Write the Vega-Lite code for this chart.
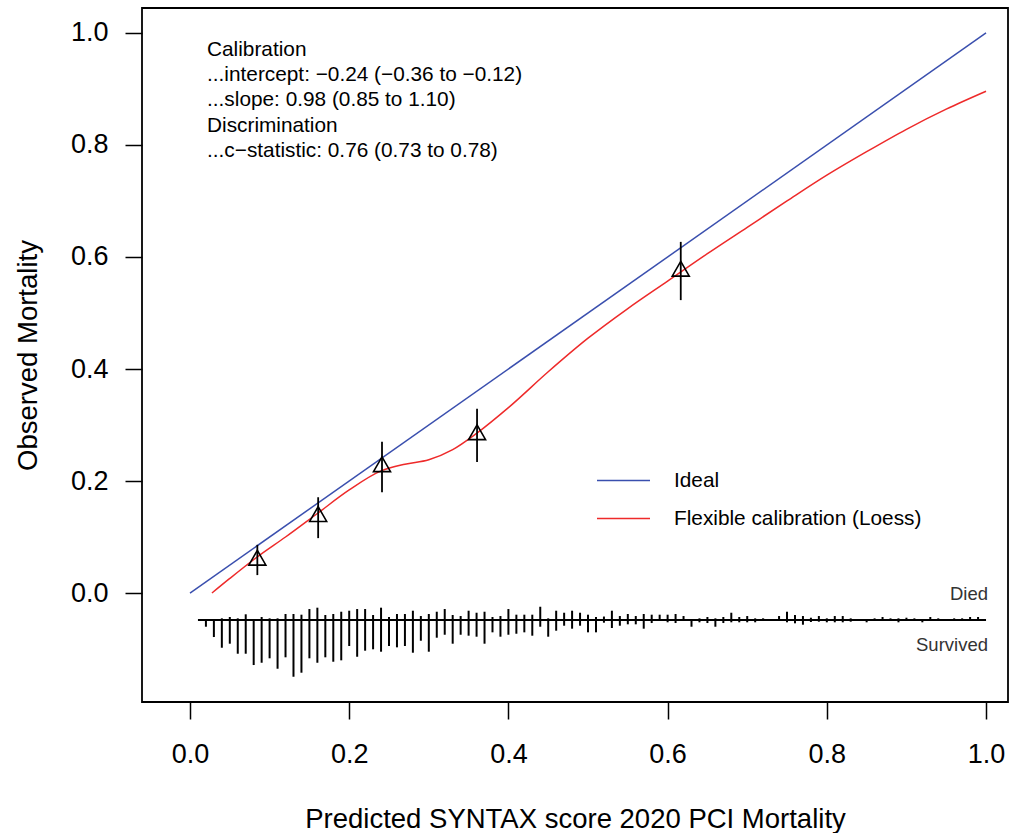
{
  "$schema": "https://vega.github.io/schema/vega-lite/v6.json",
  "width": 866,
  "height": 694,
  "autosize": {"type": "none"},
  "padding": {"left": 142, "top": 8, "right": 1, "bottom": 131},
  "background": "white",
  "config": {
    "view": {"stroke": "black", "strokeWidth": 1.8},
    "font": "Liberation Sans",
    "axis": {
      "domain": false, "grid": false, "tickColor": "black", "tickWidth": 1.5, "tickSize": 17,
      "labelColor": "black", "labelFont": "Liberation Sans", "labelFontSize": 27,
      "titleFont": "Liberation Sans", "titleFontSize": 27.5, "titleFontWeight": "normal", "titleColor": "black",
      "labelFlush": false, "labelOverlap": false, "labelBound": false
    }
  },
  "datasets": {
    "curves": [
      {"series": "Ideal", "p": 0, "obs": 0},
      {"series": "Ideal", "p": 1, "obs": 1},
      {"series": "Flexible calibration (Loess)", "p": 0.0276, "obs": 0.0},
      {"series": "Flexible calibration (Loess)", "p": 0.05, "obs": 0.026},
      {"series": "Flexible calibration (Loess)", "p": 0.085, "obs": 0.065},
      {"series": "Flexible calibration (Loess)", "p": 0.12, "obs": 0.1},
      {"series": "Flexible calibration (Loess)", "p": 0.16, "obs": 0.142},
      {"series": "Flexible calibration (Loess)", "p": 0.2, "obs": 0.184},
      {"series": "Flexible calibration (Loess)", "p": 0.24, "obs": 0.218},
      {"series": "Flexible calibration (Loess)", "p": 0.27, "obs": 0.23},
      {"series": "Flexible calibration (Loess)", "p": 0.3, "obs": 0.238},
      {"series": "Flexible calibration (Loess)", "p": 0.33, "obs": 0.256},
      {"series": "Flexible calibration (Loess)", "p": 0.36, "obs": 0.285},
      {"series": "Flexible calibration (Loess)", "p": 0.4, "obs": 0.331},
      {"series": "Flexible calibration (Loess)", "p": 0.45, "obs": 0.395},
      {"series": "Flexible calibration (Loess)", "p": 0.5, "obs": 0.455},
      {"series": "Flexible calibration (Loess)", "p": 0.55, "obs": 0.508},
      {"series": "Flexible calibration (Loess)", "p": 0.6, "obs": 0.557},
      {"series": "Flexible calibration (Loess)", "p": 0.65, "obs": 0.606},
      {"series": "Flexible calibration (Loess)", "p": 0.7, "obs": 0.653},
      {"series": "Flexible calibration (Loess)", "p": 0.75, "obs": 0.7},
      {"series": "Flexible calibration (Loess)", "p": 0.8, "obs": 0.746},
      {"series": "Flexible calibration (Loess)", "p": 0.85, "obs": 0.788},
      {"series": "Flexible calibration (Loess)", "p": 0.9, "obs": 0.828},
      {"series": "Flexible calibration (Loess)", "p": 0.95, "obs": 0.864},
      {"series": "Flexible calibration (Loess)", "p": 1.0, "obs": 0.896}
    ],
    "groups": [
      {"p": 0.0846, "obs": 0.063, "lo": 0.032, "hi": 0.086},
      {"p": 0.161, "obs": 0.141, "lo": 0.098, "hi": 0.171},
      {"p": 0.2412, "obs": 0.23, "lo": 0.18, "hi": 0.27},
      {"p": 0.3606, "obs": 0.287, "lo": 0.234, "hi": 0.329},
      {"p": 0.6165, "obs": 0.579, "lo": 0.523, "hi": 0.627}
    ],
    "spikes": [
      {"p": 0.02, "top": -0.0482, "bottom": -0.0602},
      {"p": 0.03, "top": -0.0482, "bottom": -0.0786},
      {"p": 0.04, "top": -0.0452, "bottom": -0.0977},
      {"p": 0.05, "top": -0.0428, "bottom": -0.0905},
      {"p": 0.06, "top": -0.0452, "bottom": -0.1084},
      {"p": 0.07, "top": -0.038, "bottom": -0.1084},
      {"p": 0.08, "top": -0.0482, "bottom": -0.1286},
      {"p": 0.09, "top": -0.0428, "bottom": -0.1245},
      {"p": 0.10, "top": -0.0452, "bottom": -0.1166},
      {"p": 0.11, "top": -0.0452, "bottom": -0.1352},
      {"p": 0.12, "top": -0.0375, "bottom": -0.1148},
      {"p": 0.13, "top": -0.0375, "bottom": -0.1495},
      {"p": 0.14, "top": -0.0387, "bottom": -0.1423},
      {"p": 0.15, "top": -0.0286, "bottom": -0.1166},
      {"p": 0.16, "top": -0.0262, "bottom": -0.1245},
      {"p": 0.17, "top": -0.0393, "bottom": -0.1148},
      {"p": 0.18, "top": -0.0375, "bottom": -0.1227},
      {"p": 0.19, "top": -0.0334, "bottom": -0.1202},
      {"p": 0.20, "top": -0.0316, "bottom": -0.0946},
      {"p": 0.21, "top": -0.0286, "bottom": -0.1138},
      {"p": 0.22, "top": -0.0286, "bottom": -0.103},
      {"p": 0.23, "top": -0.0393, "bottom": -0.1005},
      {"p": 0.24, "top": -0.0262, "bottom": -0.1048},
      {"p": 0.25, "top": -0.0428, "bottom": -0.0946},
      {"p": 0.26, "top": -0.0375, "bottom": -0.097},
      {"p": 0.27, "top": -0.0375, "bottom": -0.0946},
      {"p": 0.28, "top": -0.0316, "bottom": -0.1066},
      {"p": 0.29, "top": -0.0411, "bottom": -0.0852},
      {"p": 0.30, "top": -0.0375, "bottom": -0.1048},
      {"p": 0.31, "top": -0.0334, "bottom": -0.0798},
      {"p": 0.32, "top": -0.0286, "bottom": -0.0745},
      {"p": 0.33, "top": -0.0393, "bottom": -0.0905},
      {"p": 0.34, "top": -0.0411, "bottom": -0.0745},
      {"p": 0.35, "top": -0.0316, "bottom": -0.0762},
      {"p": 0.36, "top": -0.0352, "bottom": -0.078},
      {"p": 0.37, "top": -0.0334, "bottom": -0.0905},
      {"p": 0.38, "top": -0.0428, "bottom": -0.0702},
      {"p": 0.39, "top": -0.0411, "bottom": -0.078},
      {"p": 0.40, "top": -0.0286, "bottom": -0.0745},
      {"p": 0.41, "top": -0.0387, "bottom": -0.0727},
      {"p": 0.42, "top": -0.0387, "bottom": -0.0702},
      {"p": 0.43, "top": -0.0387, "bottom": -0.0762},
      {"p": 0.44, "top": -0.0245, "bottom": -0.0602},
      {"p": 0.45, "top": -0.0452, "bottom": -0.078},
      {"p": 0.46, "top": -0.0316, "bottom": -0.0673},
      {"p": 0.47, "top": -0.0352, "bottom": -0.0584},
      {"p": 0.48, "top": -0.0316, "bottom": -0.0637},
      {"p": 0.49, "top": -0.0352, "bottom": -0.0584},
      {"p": 0.50, "top": -0.0387, "bottom": -0.0702},
      {"p": 0.51, "top": -0.0428, "bottom": -0.0702},
      {"p": 0.52, "top": -0.042, "bottom": -0.053},
      {"p": 0.53, "top": -0.0316, "bottom": -0.0625},
      {"p": 0.54, "top": -0.0411, "bottom": -0.0584},
      {"p": 0.55, "top": -0.0375, "bottom": -0.0559},
      {"p": 0.56, "top": -0.0411, "bottom": -0.0559},
      {"p": 0.57, "top": -0.0375, "bottom": -0.0637},
      {"p": 0.58, "top": -0.0387, "bottom": -0.0536},
      {"p": 0.59, "top": -0.0387, "bottom": -0.05},
      {"p": 0.60, "top": -0.0387, "bottom": -0.0523},
      {"p": 0.61, "top": -0.0375, "bottom": -0.0536},
      {"p": 0.62, "top": -0.0411, "bottom": -0.05},
      {"p": 0.63, "top": -0.0482, "bottom": -0.0602},
      {"p": 0.64, "top": -0.0452, "bottom": -0.0523},
      {"p": 0.65, "top": -0.0428, "bottom": -0.0536},
      {"p": 0.66, "top": -0.0452, "bottom": -0.0602},
      {"p": 0.67, "top": -0.0428, "bottom": -0.0536},
      {"p": 0.68, "top": -0.0352, "bottom": -0.0523},
      {"p": 0.69, "top": -0.0428, "bottom": -0.0523},
      {"p": 0.70, "top": -0.0411, "bottom": -0.0523},
      {"p": 0.71, "top": -0.0452, "bottom": -0.0523},
      {"p": 0.72, "top": -0.0452, "bottom": -0.05},
      {"p": 0.73, "top": -0.0464, "bottom": -0.05},
      {"p": 0.74, "top": -0.0411, "bottom": -0.05},
      {"p": 0.75, "top": -0.0334, "bottom": -0.0523},
      {"p": 0.76, "top": -0.0393, "bottom": -0.0541},
      {"p": 0.77, "top": -0.0411, "bottom": -0.0566},
      {"p": 0.78, "top": -0.0441, "bottom": -0.0518},
      {"p": 0.79, "top": -0.0411, "bottom": -0.0512},
      {"p": 0.80, "top": -0.0452, "bottom": -0.0523},
      {"p": 0.81, "top": -0.0411, "bottom": -0.0523},
      {"p": 0.82, "top": -0.0411, "bottom": -0.0523},
      {"p": 0.83, "top": -0.0452, "bottom": -0.0512},
      {"p": 0.84, "top": -0.0482, "bottom": -0.05},
      {"p": 0.85, "top": -0.0482, "bottom": -0.0523},
      {"p": 0.86, "top": -0.0452, "bottom": -0.05},
      {"p": 0.87, "top": -0.0428, "bottom": -0.0482},
      {"p": 0.88, "top": -0.0452, "bottom": -0.05},
      {"p": 0.89, "top": -0.0452, "bottom": -0.0523},
      {"p": 0.90, "top": -0.0441, "bottom": -0.0482},
      {"p": 0.91, "top": -0.0452, "bottom": -0.05},
      {"p": 0.92, "top": -0.0482, "bottom": -0.0523},
      {"p": 0.93, "top": -0.0428, "bottom": -0.0482},
      {"p": 0.94, "top": -0.0452, "bottom": -0.0482},
      {"p": 0.96, "top": -0.0452, "bottom": -0.0482},
      {"p": 0.97, "top": -0.0452, "bottom": -0.0482},
      {"p": 0.98, "top": -0.0428, "bottom": -0.0482},
      {"p": 0.99, "top": -0.0428, "bottom": -0.0482}
    ]
  },
  "layer": [
    {
      "data": {"name": "curves"},
      "mark": {"type": "line", "strokeWidth": 1.5, "clip": true, "interpolate": "monotone"},
      "encoding": {
        "x": {"field": "p", "type": "quantitative",
              "scale": {"domain": [-0.0603, 1.0276], "nice": false, "zero": false},
              "axis": {"values": [0, 0.2, 0.4, 0.6, 0.8, 1], "format": ".1f", "labelPadding": 22, "titlePadding": 38},
              "title": "Predicted SYNTAX score 2020 PCI Mortality"},
        "y": {"field": "obs", "type": "quantitative",
              "scale": {"domain": [-0.1946, 1.0446], "nice": false, "zero": false},
              "axis": {"values": [0, 0.2, 0.4, 0.6, 0.8, 1], "format": ".1f", "labelPadding": 17, "titlePadding": 28},
              "title": "Observed Mortality"},
        "color": {"field": "series", "type": "nominal",
                  "scale": {"domain": ["Ideal", "Flexible calibration (Loess)"], "range": ["#3a4fae", "#ee2a2a"]},
                  "legend": {"title": null, "orient": "none", "legendX": 454, "legendY": 445,
                             "symbolType": "stroke", "symbolSize": 2809, "symbolStrokeWidth": 1.5,
                             "labelFontSize": 20.8, "labelFont": "Liberation Sans", "labelColor": "black",
                             "labelOffset": 23, "labelLimit": 0, "rowPadding": -16}},
        "order": {"field": "p", "type": "quantitative"}
      }
    },
    {
      "data": {"name": "groups"},
      "mark": {"type": "rule", "color": "black", "strokeWidth": 1.8},
      "encoding": {
        "x": {"field": "p", "type": "quantitative"},
        "y": {"field": "lo", "type": "quantitative"},
        "y2": {"field": "hi"}
      }
    },
    {
      "data": {"name": "groups"},
      "mark": {"type": "point", "shape": "triangle-up", "filled": false, "color": "black", "strokeWidth": 1.6, "size": 290, "opacity": 1},
      "encoding": {
        "x": {"field": "p", "type": "quantitative"},
        "y": {"field": "obs", "type": "quantitative"}
      }
    },
    {
      "data": {"name": "spikes"},
      "mark": {"type": "rule", "color": "black", "strokeWidth": 2},
      "encoding": {
        "x": {"field": "p", "type": "quantitative"},
        "y": {"field": "top", "type": "quantitative"},
        "y2": {"field": "bottom"}
      }
    },
    {
      "data": {"values": [{}]},
      "mark": {"type": "rule", "color": "black", "strokeWidth": 1.8},
      "encoding": {
        "x": {"datum": 0.01, "type": "quantitative"},
        "x2": {"datum": 1.0},
        "y": {"datum": -0.0482, "type": "quantitative"}
      }
    },
    {
      "data": {"values": [{}]},
      "mark": {"type": "text", "align": "right", "baseline": "middle", "fontSize": 18.5, "color": "#333333", "font": "Liberation Sans"},
      "encoding": {
        "x": {"datum": 1.0025, "type": "quantitative"},
        "y": {"datum": -0.002, "type": "quantitative"},
        "text": {"value": "Died"}
      }
    },
    {
      "data": {"values": [{}]},
      "mark": {"type": "text", "align": "right", "baseline": "middle", "fontSize": 18.5, "color": "#333333", "font": "Liberation Sans"},
      "encoding": {
        "x": {"datum": 1.0025, "type": "quantitative"},
        "y": {"datum": -0.093, "type": "quantitative"},
        "text": {"value": "Survived"}
      }
    },
    {
      "data": {"values": [{}]},
      "mark": {"type": "text", "align": "left", "baseline": "top", "fontSize": 20.8, "lineHeight": 25.3, "color": "black", "font": "Liberation Sans"},
      "encoding": {
        "x": {"datum": 0.0214, "type": "quantitative"},
        "y": {"datum": 0.988, "type": "quantitative"},
        "text": {"value": ["Calibration", "...intercept: \u22120.24 (\u22120.36 to \u22120.12)", "...slope: 0.98 (0.85 to 1.10)", "Discrimination", "...c\u2212statistic: 0.76 (0.73 to 0.78)"]}
      }
    }
  ]
}
